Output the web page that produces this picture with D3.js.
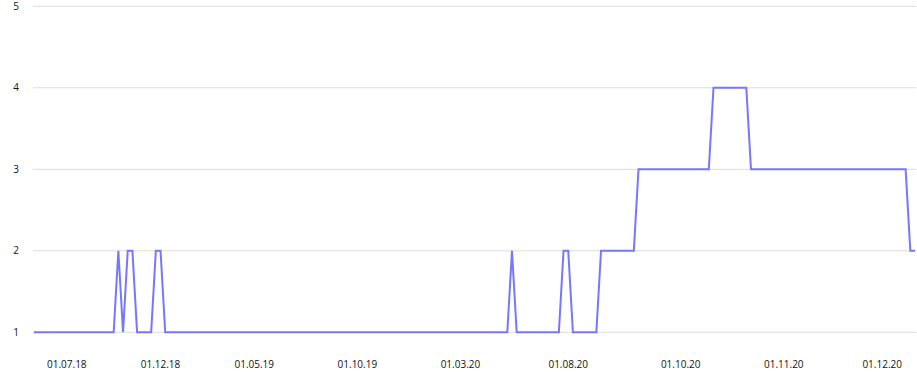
<!DOCTYPE html>
<html>
<head>
<meta charset="utf-8">
<script src="https://cdn.jsdelivr.net/npm/d3@7"></script>
<style>
  body { margin: 0; background: #fff; }
  svg text { font-family: "Open Sans", "Noto Sans", sans-serif; font-size: 10px; fill: #111; }
</style>
</head>
<body>
<svg id="chart" width="917" height="372"></svg>
<script>
// one value per sample
const values = [
  1,1,1,1,1,1,1,1,1,1, 1,1,1,1,1,1,1,1,2,1,
  2,2,1,1,1,1,2,2,1,1, 1,1,1,1,1,1,1,1,1,1,
  1,1,1,1,1,1,1,1,1,1, 1,1,1,1,1,1,1,1,1,1,
  1,1,1,1,1,1,1,1,1,1, 1,1,1,1,1,1,1,1,1,1,
  1,1,1,1,1,1,1,1,1,1, 1,1,1,1,1,1,1,1,1,1,
  1,1,2,1,1,1,1,1,1,1, 1,1,1,2,2,1,1,1,1,1,
  1,2,2,2,2,2,2,2,2,3, 3,3,3,3,3,3,3,3,3,3,
  3,3,3,3,3,4,4,4,4,4, 4,4,4,3,3,3,3,3,3,3,
  3,3,3,3,3,3,3,3,3,3, 3,3,3,3,3,3,3,3,3,3,
  3,3,3,3,3,3,3,2,2
];

// sample index where each date label sits
const tickIndex = [7, 27, 47, 69, 91, 114, 138, 160, 181];
const tickLabels = ["01.07.18", "01.12.18", "01.05.19", "01.10.19", "01.03.20",
                    "01.08.20", "01.10.20", "01.11.20", "01.12.20"];
const yTicks = [1, 2, 3, 4, 5];

const svg = d3.select("#chart");

const x = d3.scalePoint()
  .domain(d3.range(values.length))
  .range([34, 915]);

const y = d3.scaleLinear()
  .domain([1, 5])
  .range([332.3, 6.3]);

// horizontal grid
svg.append("g")
  .selectAll("line")
  .data(yTicks)
  .join("line")
  .attr("x1", 33)
  .attr("x2", 916)
  .attr("y1", d => y(d))
  .attr("y2", d => y(d))
  .attr("stroke", "#dcdcdc")
  .attr("stroke-width", 1);

// y labels
svg.append("g")
  .selectAll("text")
  .data(yTicks)
  .join("text")
  .attr("x", 16)
  .attr("y", d => y(d))
  .attr("dy", "0.35em")
  .attr("text-anchor", "middle")
  .text(d => d);

// x labels
svg.append("g")
  .selectAll("text")
  .data(tickIndex)
  .join("text")
  .attr("x", d => x(d))
  .attr("y", 364)
  .attr("dy", "0.35em")
  .attr("text-anchor", "middle")
  .text((d, i) => tickLabels[i]);

const line = d3.line()
  .x((d, i) => x(i))
  .y(d => y(d));

svg.append("path")
  .datum(values)
  .attr("fill", "none")
  .attr("stroke", "#7676ff")
  .attr("stroke-width", 2)
  .attr("stroke-linejoin", "miter")
  .attr("d", line);
</script>
</body>
</html>
